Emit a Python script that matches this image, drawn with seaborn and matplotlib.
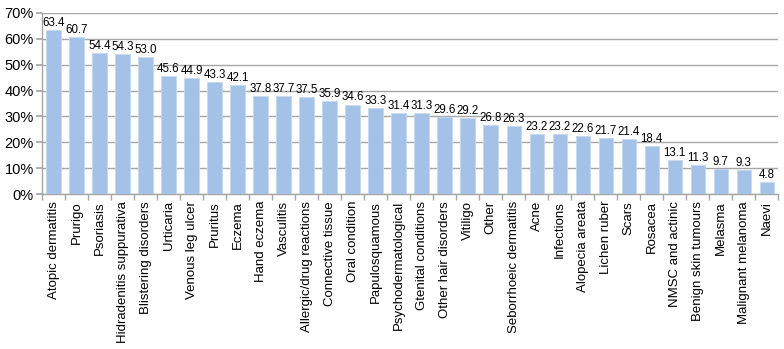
import matplotlib
matplotlib.use("Agg")
import matplotlib.pyplot as plt
import seaborn as sns
import pandas as pd
from matplotlib.ticker import PercentFormatter, FixedLocator

categories = ["Atopic dermatitis", "Prurigo", "Psoriasis", "Hidradenitis suppurativa",
              "Blistering disorders", "Urticaria", "Venous leg ulcer", "Pruritus", "Eczema",
              "Hand eczema", "Vasculitis", "Allergic/drug reactions", "Connective tissue",
              "Oral condition", "Papulosquamous", "Psychodermatological", "Gtenital conditions",
              "Other hair disorders", "Vitiligo", "Other", "Seborrhoeic dermatitis", "Acne",
              "Infections", "Alopecia areata", "Lichen ruber", "Scars", "Rosacea",
              "NMSC and actinic", "Benign skin tumours", "Melasma", "Malignant melanoma", "Naevi"]
values = [63.4, 60.7, 54.4, 54.3, 53.0, 45.6, 44.9, 43.3, 42.1, 37.8, 37.7, 37.5, 35.9,
          34.6, 33.3, 31.4, 31.3, 29.6, 29.2, 26.8, 26.3, 23.2, 23.2, 22.6, 21.7, 21.4,
          18.4, 13.1, 11.3, 9.7, 9.3, 4.8]

sns.set_theme(style="white")
plt.rcParams['font.family'] = ['Liberation Sans', 'DejaVu Sans']
plt.rcParams['text.color'] = 'black'
plt.rcParams['xtick.color'] = 'black'
plt.rcParams['ytick.color'] = 'black'

df = pd.DataFrame({"cat": categories, "val": values})

fig = plt.figure(figsize=(7.84, 3.49), dpi=100)
ax = fig.add_axes([0.0536, 0.444, 0.939, 0.519])
sns.barplot(data=df, x="cat", y="val", color="#A4C2E8", width=0.62, ax=ax,
            saturation=1, edgecolor="#C5D8EF", linewidth=0.6, zorder=3)

ax.set_ylim(0, 70)
ax.set_xlim(-0.5, len(categories) - 0.5)
ax.set_yticks(range(0, 71, 10))
ax.yaxis.set_major_formatter(PercentFormatter(decimals=0))
ax.grid(axis="y", color="#A6A6A6", linewidth=1.0, zorder=0)
ax.set_xlabel("")
ax.set_ylabel("")
for s in ["top", "right"]:
    ax.spines[s].set_visible(False)
for s in ["left", "bottom"]:
    ax.spines[s].set_color("#A6A6A6")
    ax.spines[s].set_linewidth(1.0)

ax.set_xticks(range(len(categories)))
ax.set_xticklabels(categories, rotation=90, fontsize=9.5, color="black")
ax.tick_params(axis="x", length=0, pad=5)
ax.tick_params(axis="y", labelsize=10.5, length=4, color="#A6A6A6", labelcolor="black",
               direction="out", left=True, pad=2)
ax.xaxis.set_minor_locator(FixedLocator([i - 0.5 for i in range(len(categories) + 1)]))
ax.tick_params(axis="x", which="minor", length=4, color="#A6A6A6", bottom=True)

for i, v in enumerate(values):
    ax.text(i, v + 0.4, f"{v:.1f}", ha="center", va="bottom", fontsize=8.3, color="black")

fig.savefig("out.png", dpi=100)
